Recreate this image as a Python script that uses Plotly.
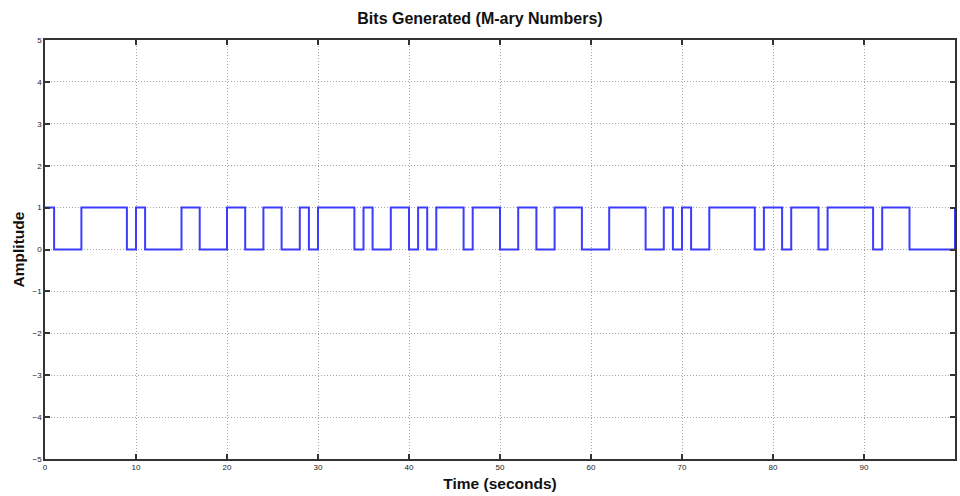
import plotly.graph_objects as go

# Bit sequence sampled each second, t = 0..100 (stairs)
time_s = list(range(0, 101))
bits = [
    1, 0, 0, 0, 1, 1, 1, 1, 1, 0,   # 0-9
    1, 0, 0, 0, 0, 1, 1, 0, 0, 0,   # 10-19
    1, 1, 0, 0, 1, 1, 0, 0, 1, 0,   # 20-29
    1, 1, 1, 1, 0, 1, 0, 0, 1, 1,   # 30-39
    0, 1, 0, 1, 1, 1, 0, 1, 1, 1,   # 40-49
    0, 0, 1, 1, 0, 0, 1, 1, 1, 0,   # 50-59
    0, 0, 1, 1, 1, 1, 0, 0, 1, 0,   # 60-69
    1, 0, 0, 1, 1, 1, 1, 1, 0, 1,   # 70-79
    1, 0, 1, 1, 1, 0, 1, 1, 1, 1,   # 80-89
    1, 0, 1, 1, 1, 0, 0, 0, 0, 0,   # 90-99
    1,                              # 100
]
x_ticks = list(range(0, 101, 10))
y_ticks = list(range(-5, 6))

FONT = "Liberation Sans, Arial, sans-serif"

fig = go.Figure()
fig.add_trace(go.Scatter(
    x=time_s, y=bits, mode="lines", line_shape="hv",
    line=dict(color="#3c3cff", width=2), showlegend=False,
))

axis_common = dict(
    showline=True, linecolor="#333333", linewidth=1.5, mirror="ticks",
    ticks="inside", ticklen=5, tickwidth=1.5, tickcolor="#333333",
    showgrid=True, gridcolor="#a8a8a8", griddash="1px,2px", gridwidth=1,
    zeroline=False,
    tickfont=dict(family=FONT, size=8, color="#222222"),
)

fig.update_layout(
    width=960, height=496,
    margin=dict(l=45, r=3, t=40, b=37),
    paper_bgcolor="white", plot_bgcolor="white",
    title=dict(text="<b>Bits Generated (M-ary Numbers)</b>", x=0.5, xanchor="center",
               y=0.963, yanchor="middle",
               font=dict(family=FONT, size=16, color="#111111")),
    xaxis=dict(range=[0, 100], tickvals=x_ticks,
               title=dict(text="<b>Time (seconds)</b>", standoff=7,
                          font=dict(family=FONT, size=15.5, color="#111111")),
               **axis_common),
    yaxis=dict(range=[-5, 5], tickvals=y_ticks,
               title=dict(text="<b>Amplitude</b>", standoff=4,
                          font=dict(family=FONT, size=15.5, color="#111111")),
               **axis_common),
)

fig.write_html("out.html")
